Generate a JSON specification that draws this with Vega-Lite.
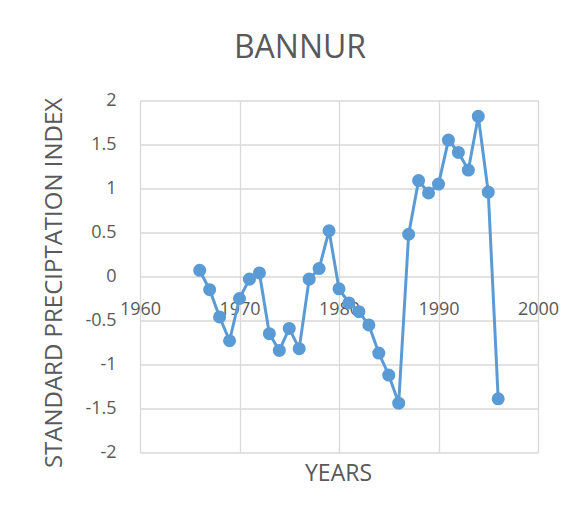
{
  "$schema": "https://vega.github.io/schema/vega-lite/v6.json",
  "autosize": "none",
  "width": 398,
  "height": 352,
  "padding": {"left": 140, "top": 100.5, "right": 49, "bottom": 67.5},
  "background": "white",
  "title": {
    "text": "BANNUR",
    "font": "Open Sans",
    "fontSize": 32,
    "fontWeight": "normal",
    "color": "#595959",
    "anchor": "middle",
    "frame": "group",
    "dx": -39,
    "baseline": "alphabetic",
    "offset": 2
  },
  "config": {
    "view": {"stroke": null},
    "axis": {
      "labelFont": "Open Sans",
      "labelFontSize": 18,
      "labelColor": "#595959",
      "titleFont": "Open Sans",
      "titleFontWeight": "normal",
      "titleColor": "#595959",
      "gridColor": "#d9d9d9",
      "gridWidth": 1.3,
      "domain": false,
      "ticks": false,
      "labelFlush": false,
      "labelOverlap": false
    }
  },
  "data": {
    "values": [
      {"year": 1966, "spi": 0.07},
      {"year": 1967, "spi": -0.15},
      {"year": 1968, "spi": -0.46},
      {"year": 1969, "spi": -0.73},
      {"year": 1970, "spi": -0.25},
      {"year": 1971, "spi": -0.03},
      {"year": 1972, "spi": 0.04},
      {"year": 1973, "spi": -0.65},
      {"year": 1974, "spi": -0.84},
      {"year": 1975, "spi": -0.59},
      {"year": 1976, "spi": -0.82},
      {"year": 1977, "spi": -0.03},
      {"year": 1978, "spi": 0.09},
      {"year": 1979, "spi": 0.52},
      {"year": 1980, "spi": -0.14},
      {"year": 1981, "spi": -0.30},
      {"year": 1982, "spi": -0.40},
      {"year": 1983, "spi": -0.55},
      {"year": 1984, "spi": -0.87},
      {"year": 1985, "spi": -1.12},
      {"year": 1986, "spi": -1.44},
      {"year": 1987, "spi": 0.48},
      {"year": 1988, "spi": 1.09},
      {"year": 1989, "spi": 0.95},
      {"year": 1990, "spi": 1.05},
      {"year": 1991, "spi": 1.55},
      {"year": 1992, "spi": 1.41},
      {"year": 1993, "spi": 1.21},
      {"year": 1994, "spi": 1.82},
      {"year": 1995, "spi": 0.96},
      {"year": 1996, "spi": -1.39}
    ]
  },
  "mark": {
    "type": "line",
    "color": "#5b9bd5",
    "strokeWidth": 3,
    "point": {"filled": true, "size": 170, "color": "#5b9bd5", "opacity": 1}
  },
  "encoding": {
    "x": {
      "field": "year",
      "type": "quantitative",
      "scale": {"domain": [1960, 2000], "nice": false, "zero": false},
      "axis": {
        "values": [1960, 1970, 1980, 1990, 2000],
        "labelExpr": "toString(datum.value)",
        "offset": -176,
        "labelPadding": 24,
        "title": "YEARS",
        "titleFontSize": 23,
        "titleX": 198,
        "titleY": 196.5,
        "titleBaseline": "middle",
        "titleAlign": "center"
      }
    },
    "y": {
      "field": "spi",
      "type": "quantitative",
      "scale": {"domain": [-2, 2], "nice": false},
      "axis": {
        "values": [-2, -1.5, -1, -0.5, 0, 0.5, 1, 1.5, 2],
        "labelExpr": "toString(datum.value)",
        "labelPadding": 24,
        "title": "STANDARD PRECIPTATION INDEX",
        "titleFontSize": 24,
        "titleX": -86,
        "titleY": 182,
        "titleAngle": 270,
        "titleBaseline": "middle",
        "titleAlign": "center"
      }
    }
  }
}
